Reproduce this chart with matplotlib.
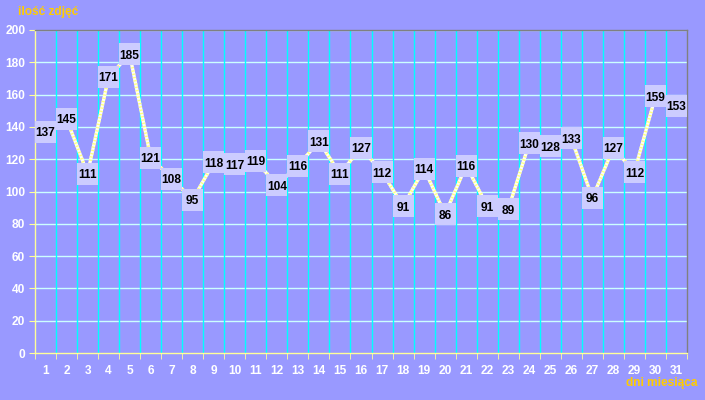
import matplotlib
matplotlib.use("Agg")
import matplotlib.pyplot as plt
from matplotlib.patches import Rectangle

plt.rcParams["font.family"] = ["Liberation Sans", "DejaVu Sans"]

days = list(range(1, 32))
photos = [137, 145, 111, 171, 185, 121, 108, 95, 118, 117, 119, 104, 116, 131, 111,
          127, 112, 91, 114, 86, 116, 91, 89, 130, 128, 133, 96, 127, 112, 159, 153]
yticks = list(range(0, 201, 20))

BG = "#9999FF"
W, H = 705, 400
fig = plt.figure(figsize=(W / 100, H / 100), dpi=100, facecolor=BG)
ax = fig.add_axes([35 / W, 1 - 353 / H, (687 - 35) / W, (353 - 30) / H])
ax.set_facecolor(BG)

ax.set_xlim(0.5, 31.5)
ax.set_ylim(0, 200)

for y in yticks[1:]:
    ax.axhline(y, color="#CCFFFF", lw=1, zorder=1)
for d in days[:-1]:
    ax.axvline(d + 0.5, color="#00FFFF", lw=1, zorder=1)

ax.plot(days, photos, color="#FFFFF4", lw=2.4, zorder=2, solid_joinstyle="round")
ax.plot(days, photos, color="#FFFF80", lw=2.4, zorder=2, linestyle=(0, (0.4, 0.6)))

box_h = 22 / 323 * 200  # box height in data units (~22 px)
for d, v in zip(days, photos):
    ax.add_patch(Rectangle((d - 0.5, v - box_h / 2), 1.0, box_h, fc="#CCCCFF",
                           ec="none", zorder=3))
    ax.text(d, v, str(v), ha="center", va="center_baseline", fontsize=8.6,
            fontweight="bold", color="black", zorder=4)

ax.set_xticks(days)
ax.set_xticklabels([str(d) for d in days])
ax.set_xticks([d + 0.5 for d in [0] + days], minor=True)
ax.tick_params(axis="x", which="major", length=0, pad=9, labelsize=8.6, labelcolor="white")
ax.tick_params(axis="x", which="minor", length=4, color="#FFFF99", direction="out")
ax.set_yticks(yticks)
ax.tick_params(axis="y", length=4, color="#FFFF99", labelsize=8.6, labelcolor="white", pad=3)
for lab in ax.get_xticklabels() + ax.get_yticklabels():
    lab.set_fontweight("bold")

ax.spines["left"].set_color("#FFFF99")
ax.spines["bottom"].set_color("#FFFF99")
ax.spines["top"].set_color("#808080")
ax.spines["right"].set_color("#808080")
for s in ax.spines.values():
    s.set_linewidth(1)

fig.text(18 / W, 1 - 12 / H, "ilość zdjęć", color="#FFCC00", fontsize=8.6, fontweight="bold",
         ha="left", va="center")
fig.text(697 / W, 1 - 383 / H, "dni miesiąca", color="#FFCC00", fontsize=8.6, fontweight="bold",
         ha="right", va="center")

fig.savefig("out.png", dpi=100, facecolor=BG)
